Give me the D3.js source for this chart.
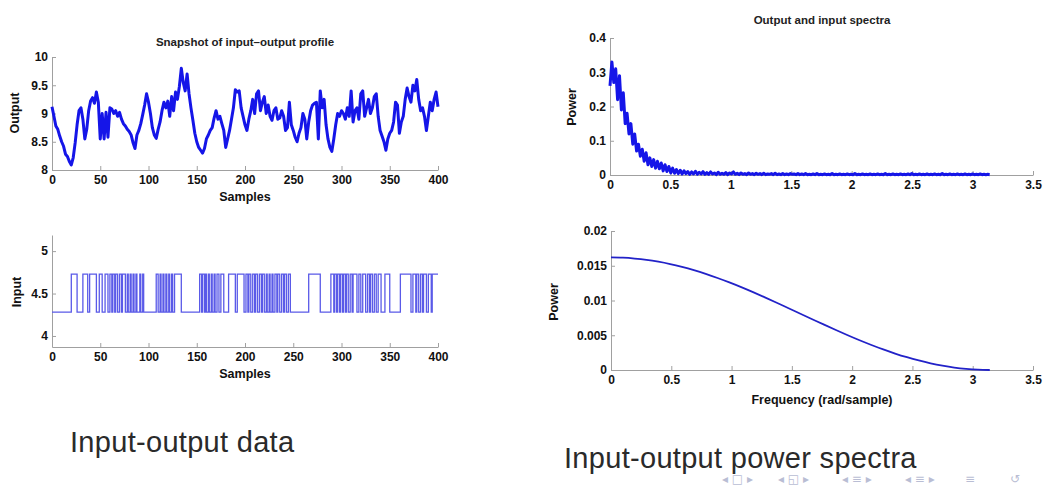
<!DOCTYPE html>
<html lang="en">
<head>
<meta charset="UTF-8">
<title>Input-output data and power spectra</title>
<style>
    body { margin: 0; background: #fff; }
    svg { display: block; }
    .axis path, .axis line { stroke: #a0a0a0; }
    .axis text { font-family: "Liberation Sans", Arial, sans-serif; font-weight: bold; font-size: 12px; fill: #111; }
    .lbl { font-family: "Liberation Sans", Arial, sans-serif; font-weight: bold; font-size: 12.5px; fill: #111; }
    .ttl { font-family: "Liberation Sans", Arial, sans-serif; font-weight: bold; font-size: 11.5px; fill: #222; }
    .cap { font-family: "Liberation Sans", Arial, sans-serif; font-size: 29px; fill: #2a2a2a; letter-spacing: 0.3px; }
    .nav { font-family: "DejaVu Sans", sans-serif; font-size: 12px; fill: #b9bdd4; }
</style>
</head>
<body>
<div id="chart"></div>
<script src="https://d3js.org/d3.v7.min.js"></script>
<script>
// output samples, every 2nd sample from 0 to 400
const outputStep = 2;
const outputValues = [
    9.12, 8.95, 8.78, 8.72, 8.60, 8.50, 8.42, 8.28, 8.24, 8.15,
    8.09, 8.22, 8.48, 8.80, 9.05, 9.10, 8.90, 8.55, 8.72, 9.05,
    9.22, 9.28, 9.18, 9.38, 9.20, 8.55, 9.00, 8.55, 9.02, 8.58,
    9.10, 9.08, 9.00, 9.05, 8.95, 9.02, 8.90, 8.82, 8.78, 8.72,
    8.68, 8.62, 8.48, 8.38, 8.62, 8.70, 8.82, 8.98, 9.15, 9.35,
    9.20, 9.00, 8.75, 8.62, 8.56, 8.72, 8.85, 9.05, 9.20, 9.10,
    9.22, 8.95, 9.30, 9.05, 9.38, 9.25, 9.48, 9.80, 9.55, 9.40,
    9.70, 9.35, 9.10, 8.88, 8.65, 8.50, 8.40, 8.35, 8.30, 8.38,
    8.55, 8.62, 8.70, 8.75, 8.92, 9.05, 8.90, 8.95, 8.82, 8.70,
    8.40, 8.55, 8.70, 8.90, 9.10, 9.42, 9.38, 9.40, 9.10, 8.95,
    8.80, 8.70, 8.90, 9.05, 9.25, 9.00, 9.35, 9.40, 9.05, 9.20,
    9.30, 9.00, 9.15, 8.95, 8.88, 9.05, 9.10, 8.90, 8.92, 9.05,
    8.95, 8.70, 8.75, 9.20, 8.80, 8.70, 8.58, 8.50, 8.65, 8.75,
    9.00, 8.90, 8.55, 8.85, 9.05, 9.15, 9.18, 9.20, 8.55, 9.40,
    9.10, 9.25, 8.80, 8.55, 8.40, 8.33, 8.55, 8.80, 9.00, 8.95,
    9.05, 9.00, 8.90, 9.10, 8.95, 9.40, 8.85, 9.05, 9.10, 8.90,
    9.35, 9.40, 8.95, 9.10, 9.25, 9.00, 9.10, 9.30, 9.35, 8.95,
    8.70, 8.60, 8.50, 8.35, 8.55, 8.65, 8.70, 8.85, 9.20, 9.15,
    8.65, 8.85, 8.95, 9.25, 9.45, 9.30, 9.20, 9.50, 9.40, 9.60,
    9.25, 9.05, 9.10, 8.95, 8.70, 8.95, 9.20, 9.05, 9.25, 9.38,
    9.12
];

// input: two-level signal, samples where the level flips (starts low)
const inputLow = 4.28;
const inputHigh = 4.73;
const inputSwitches = [
    20, 26, 32, 37, 39, 46, 49, 52, 55, 58, 60, 62, 63, 65, 66, 68, 70, 72, 73, 76,
    78, 79, 81, 82, 84, 85, 87, 88, 91, 92, 94, 95, 108, 110, 112, 113, 115, 116, 118, 119,
    121, 122, 124, 125, 127, 134, 153, 155, 156, 158, 159, 160, 162, 163, 165, 166, 168, 169, 171, 173,
    175, 178, 183, 190, 192, 199, 201, 203, 204, 206, 208, 210, 211, 213, 215, 217, 218, 220, 222, 223,
    225, 226, 228, 229, 231, 233, 234, 236, 238, 240, 241, 243, 245, 247, 266, 278, 289, 292, 293, 295,
    296, 298, 299, 301, 302, 304, 305, 307, 309, 311, 312, 316, 318, 320, 322, 325, 327, 329, 330, 332,
    334, 336, 338, 341, 345, 350, 361, 372, 374, 377, 378, 380, 382, 384, 385, 388, 390, 393, 394
];
const sampleCount = 400;

// output power spectrum, frequencies 0..pi in 200 steps
const freqStep = Math.PI / 200;
const outputSpectrum = [
    0.26, 0.33, 0.27, 0.31, 0.22, 0.29, 0.19, 0.24, 0.15, 0.18,
    0.12, 0.15, 0.09, 0.12, 0.07, 0.09, 0.055, 0.075, 0.04, 0.065,
    0.03, 0.05, 0.025, 0.045, 0.02, 0.04, 0.018, 0.035, 0.012, 0.03,
    0.01, 0.025, 0.006, 0.02, 0.005, 0.016, 0.004, 0.014, 0.003, 0.012,
    0.004, 0.01, 0.002, 0.009, 0.003, 0.011, 0.002, 0.008, 0.003, 0.01,
    0.002, 0.007, 0.002, 0.009, 0.003, 0.006, 0.001, 0.008, 0.002, 0.005,
    0.002, 0.007, 0.001, 0.006, 0.003, 0.009, 0.002, 0.005, 0.001, 0.006,
    0.002, 0.004, 0.001, 0.006, 0.002, 0.004, 0.001, 0.005, 0.002, 0.004,
    0.001, 0.005, 0.001, 0.003, 0.002, 0.004, 0.001, 0.005, 0.001, 0.003,
    0.001, 0.004, 0.001, 0.003, 0.001, 0.004, 0.002, 0.003, 0.001, 0.004,
    0.001, 0.003, 0.001, 0.004, 0.001, 0.002, 0.001, 0.003, 0.001, 0.004,
    0.001, 0.002, 0.001, 0.003, 0.001, 0.002, 0.001, 0.004, 0.001, 0.002,
    0.001, 0.003, 0.001, 0.002, 0.001, 0.003, 0.001, 0.002, 0.001, 0.004,
    0.001, 0.002, 0.001, 0.003, 0.001, 0.002, 0.001, 0.003, 0.001, 0.002,
    0.001, 0.003, 0.001, 0.002, 0.001, 0.004, 0.001, 0.002, 0.001, 0.003,
    0.001, 0.002, 0.001, 0.003, 0.001, 0.002, 0.001, 0.003, 0.001, 0.004,
    0.001, 0.002, 0.001, 0.003, 0.001, 0.002, 0.001, 0.003, 0.001, 0.002,
    0.001, 0.003, 0.001, 0.002, 0.001, 0.004, 0.001, 0.002, 0.001, 0.003,
    0.001, 0.002, 0.001, 0.003, 0.001, 0.002, 0.001, 0.003, 0.001, 0.002,
    0.001, 0.003, 0.001, 0.002, 0.001, 0.003, 0.001, 0.002, 0.001, 0.002,
    0.001
];

// input power spectrum, frequencies 0..pi in 32 steps
const inputFreqStep = Math.PI / 32;
const inputSpectrum = [
    0.01620, 0.01616, 0.01604, 0.01585, 0.01558, 0.01524, 0.01483, 0.01436, 0.01383, 0.01324,
    0.01260, 0.01192, 0.01120, 0.01045, 0.00968, 0.00889, 0.00810, 0.00731, 0.00652, 0.00575,
    0.00500, 0.00428, 0.00360, 0.00296, 0.00237, 0.00184, 0.00137, 0.00096, 0.00062, 0.00035,
    0.00016, 0.00004, 0.0
];

const sampleTicks = [0, 50, 100, 150, 200, 250, 300, 350, 400];
const outputTicks = [8, 8.5, 9, 9.5, 10];
const inputTicks = [4, 4.5, 5];
const freqTicks = [0, 0.5, 1, 1.5, 2, 2.5, 3, 3.5];
const outPowerTicks = [0, 0.1, 0.2, 0.3, 0.4];
const inPowerTicks = [0, 0.005, 0.01, 0.015, 0.02];

const width = 1050;
const height = 487;

const svg = d3.select("#chart")
    .append("svg")
    .attr("width", width)
    .attr("height", height);

function drawAxes(x, y, xt, yt) {
    const y0 = y.range()[0];
    const x0 = x.range()[0];
    svg.append("g")
        .attr("class", "axis")
        .attr("transform", `translate(0,${y0})`)
        .call(d3.axisBottom(x).tickValues(xt).tickFormat(d => String(d))
            .tickSizeInner(-4).tickSizeOuter(0).tickPadding(5));
    svg.append("g")
        .attr("class", "axis")
        .attr("transform", `translate(${x0},0)`)
        .call(d3.axisLeft(y).tickValues(yt).tickFormat(d => String(d))
            .tickSizeInner(-4).tickSizeOuter(0).tickPadding(4));
}

function yLabel(x, y, text) {
    svg.append("text")
        .attr("class", "lbl")
        .attr("transform", `translate(${x},${y}) rotate(-90)`)
        .attr("text-anchor", "middle")
        .text(text);
}

function xLabel(x, y, text) {
    svg.append("text")
        .attr("class", "lbl")
        .attr("x", x).attr("y", y)
        .attr("text-anchor", "middle")
        .text(text);
}

// --- top left: output ---
const xOut = d3.scaleLinear().domain([0, 400]).range([52, 438]);
const yOut = d3.scaleLinear().domain([8, 10]).range([170, 57]);
drawAxes(xOut, yOut, sampleTicks, outputTicks);

svg.append("path")
    .datum(outputValues)
    .attr("fill", "none")
    .attr("stroke", "#1515e8")
    .attr("stroke-width", 3)
    .attr("stroke-linejoin", "round")
    .attr("d", d3.line()
        .x((d, i) => xOut(i * outputStep))
        .y(d => yOut(d)));

svg.append("text").attr("class", "ttl")
    .attr("x", 245).attr("y", 46).attr("text-anchor", "middle")
    .text("Snapshot of input\u2013output profile");
xLabel(245, 201, "Samples");
yLabel(19, 113, "Output");

// --- bottom left: input ---
const xIn = d3.scaleLinear().domain([0, 400]).range([52, 438]);
const yIn = d3.scaleLinear().domain([3.87, 5.19]).range([347, 235]);
drawAxes(xIn, yIn, sampleTicks, inputTicks);

const inputPoints = [[0, inputLow]];
let level = inputLow;
inputSwitches.forEach(s => {
    level = level === inputLow ? inputHigh : inputLow;
    inputPoints.push([s, level]);
});
inputPoints.push([sampleCount, level]);

svg.append("path")
    .datum(inputPoints)
    .attr("fill", "none")
    .attr("stroke", "#5a5ae8")
    .attr("stroke-width", 1.3)
    .attr("d", d3.line()
        .curve(d3.curveStepAfter)
        .x(d => xIn(d[0]))
        .y(d => yIn(d[1])));

xLabel(245, 378, "Samples");
yLabel(21, 292, "Input");

// --- top right: output spectrum ---
const xF1 = d3.scaleLinear().domain([0, 3.5]).range([610, 1033]);
const yP1 = d3.scaleLinear().domain([0, 0.4]).range([175, 38]);
drawAxes(xF1, yP1, freqTicks, outPowerTicks);

svg.append("path")
    .datum(outputSpectrum)
    .attr("fill", "none")
    .attr("stroke", "#1515e8")
    .attr("stroke-width", 3)
    .attr("stroke-linejoin", "round")
    .attr("d", d3.line()
        .x((d, i) => xF1(i * freqStep))
        .y(d => yP1(d)));

svg.append("text").attr("class", "ttl")
    .attr("x", 822).attr("y", 24).attr("text-anchor", "middle")
    .text("Output and input spectra");
yLabel(576, 107, "Power");

// --- bottom right: input spectrum ---
const xF2 = d3.scaleLinear().domain([0, 3.5]).range([611, 1033]);
const yP2 = d3.scaleLinear().domain([0, 0.02]).range([370, 231]);
drawAxes(xF2, yP2, freqTicks, inPowerTicks);

svg.append("path")
    .datum(inputSpectrum)
    .attr("fill", "none")
    .attr("stroke", "#2222c8")
    .attr("stroke-width", 1.8)
    .attr("d", d3.line()
        .curve(d3.curveMonotoneX)
        .x((d, i) => xF2(i * inputFreqStep))
        .y(d => yP2(d)));

xLabel(822, 404, "Frequency (rad/sample)");
yLabel(558, 302, "Power");

// captions
svg.append("text").attr("class", "cap")
    .attr("x", 70).attr("y", 452)
    .text("Input-output data");
svg.append("text").attr("class", "cap")
    .attr("x", 564).attr("y", 468)
    .text("Input-output power spectra");

// beamer navigation symbols
const navGroups = [
    "\u25C2 \u25A1 \u25B8", "\u25C2 \u25F1 \u25B8", "\u25C2 \u2261 \u25B8",
    "\u25C2 \u2261 \u25B8", "\u2261", "\u21BA"
];
const navX = [722, 778, 842, 905, 965, 1010];
navGroups.forEach((g, i) => {
    svg.append("text").attr("class", "nav")
        .attr("x", navX[i]).attr("y", 483)
        .text(g);
});
</script>
</body>
</html>
